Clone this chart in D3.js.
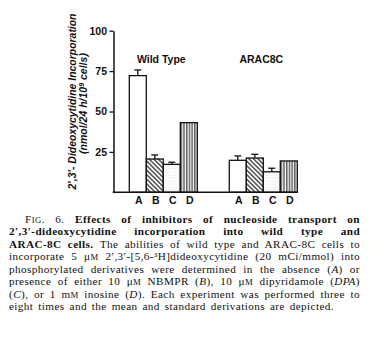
<!DOCTYPE html>
<html><head><meta charset="utf-8">
<script src="https://cdn.jsdelivr.net/npm/d3@7"></script>
<style>body{margin:0;background:#fff} svg{display:block}</style>
</head><body><svg id="c" width="381" height="348"></svg>
<script>
// Incorporation of 2',3'-dideoxycytidine (nmol/24 h/10^9 cells), mean and SD
const groups = ["Wild Type", "ARAC8C"];
const conditions = ["A", "B", "C", "D"];
const wildTypeMeans = [72.2, 20.6, 17.3, 43.1];
const wildTypeErrors = [3.5, 2.5, 1.3, 0];
const arac8cMeans = [19.8, 21.2, 12.7, 19.4];
const arac8cErrors = [2.7, 2.3, 2.2, 0];
const yTicks = [25, 50, 75, 100];
const yTitle = ["2\u2032,3\u2032- Dideoxycytidine Incorporation", "(nmol/24 h/10", "9", " cells)"];

// Caption lines: [text, style] segments; b = bold, r = roman, i = italic, s = small caps
const captionLines = [
  [["F", "r"], ["IG", "s"], [". 6. ", "r"], ["Effects of inhibitors of nucleoside transport on", "b"]],
  [["2\u2032,3\u2032-dideoxycytidine incorporation into wild type and", "b"]],
  [["ARAC-8C cells.", "b"], [" The abilities of wild type and ARAC-8C cells to", "r"]],
  [["incorporate 5 \u03bc", "r"], ["M", "s"], [" 2\u2032,3\u2032-[5,6-\u00b3H]dideoxycytidine (20 mCi/mmol) into", "r"]],
  [["phosphorylated derivatives were determined in the absence (", "r"], ["A", "i"], [") or", "r"]],
  [["presence of either 10 \u03bc", "r"], ["M", "s"], [" NBMPR (", "r"], ["B", "i"], ["), 10 \u03bc", "r"], ["M", "s"], [" dipyridamole (", "r"], ["DPA", "i"], [")", "r"]],
  [["(", "r"], ["C", "i"], ["), or 1 m", "r"], ["M", "s"], [" inosine (", "r"], ["D", "i"], ["). Each experiment was performed three to", "r"]],
  [["eight times and the mean and standard derivations are depicted.", "r"]]
];

const series = [wildTypeMeans, arac8cMeans];
const seriesErr = [wildTypeErrors, arac8cErrors];

const svg = d3.select("#c");
const sans = "'Liberation Sans', Arial, Helvetica, sans-serif";
const serif = "'Liberation Serif', 'Times New Roman', serif";

// fill patterns for conditions B, C, D
const defs = svg.append("defs");
const hatch = defs.append("pattern").attr("id", "pB").attr("patternUnits", "userSpaceOnUse")
  .attr("width", 3.2).attr("height", 6).attr("patternTransform", "rotate(-45)");
hatch.append("rect").attr("width", 3.2).attr("height", 6).attr("fill", "#fff");
hatch.append("line").attr("x1", 0.8).attr("x2", 0.8).attr("y1", 0).attr("y2", 6)
  .attr("stroke", "#111").attr("stroke-width", 1.1);
const dots = defs.append("pattern").attr("id", "pC").attr("patternUnits", "userSpaceOnUse")
  .attr("width", 3).attr("height", 3);
dots.append("rect").attr("width", 3).attr("height", 3).attr("fill", "#fff");
dots.append("circle").attr("cx", 1).attr("cy", 1).attr("r", 0.55).attr("fill", "#c8c8c8");
const vert = defs.append("pattern").attr("id", "pD").attr("patternUnits", "userSpaceOnUse")
  .attr("width", 2.7).attr("height", 4);
vert.append("rect").attr("width", 2.7).attr("height", 4).attr("fill", "#fff");
vert.append("line").attr("x1", 0.8).attr("x2", 0.8).attr("y1", 0).attr("y2", 4)
  .attr("stroke", "#111").attr("stroke-width", 1);
const fills = { A: "#fff", B: "url(#pB)", C: "url(#pC)", D: "url(#pD)" };

// scales
const axisX = 113.5;
const y = d3.scaleLinear().domain([0, 100]).range([192.3, 30.7]);
const gx = d3.scaleBand().domain(groups).range([113.3, 313.3]).paddingInner(0.32).paddingOuter(0.16);
const cx = d3.scaleBand().domain(conditions).range([0, gx.bandwidth()]).padding(0);

// y axis
const yAxis = svg.append("g").attr("transform", `translate(${axisX},0)`)
  .call(d3.axisLeft(y).tickValues(yTicks).tickSize(4).tickSizeOuter(0).tickPadding(2.5));
yAxis.select(".domain").attr("stroke", "#111").attr("stroke-width", 1.5);
yAxis.selectAll(".tick line").attr("stroke", "#111").attr("stroke-width", 1.3);
yAxis.selectAll(".tick text").attr("font-family", sans).attr("font-weight", "bold")
  .attr("font-size", 10.5).attr("fill", "#111");

// bars
groups.forEach((g, gi) => {
  const gg = svg.append("g").attr("transform", `translate(${gx(g)},0)`);
  const rows = conditions.map((c, i) => ({ c, v: series[gi][i], e: seriesErr[gi][i] }));
  gg.selectAll("rect.bar").data(rows).join("rect").attr("class", "bar")
    .attr("x", d => cx(d.c)).attr("width", cx.bandwidth())
    .attr("y", d => y(d.v)).attr("height", d => y(0) - y(d.v))
    .attr("fill", d => fills[d.c]).attr("stroke", "#111").attr("stroke-width", 1.3);
  const eb = gg.selectAll("g.err").data(rows.filter(d => d.e > 0)).join("g").attr("class", "err");
  eb.append("line").attr("x1", d => cx(d.c) + cx.bandwidth() / 2).attr("x2", d => cx(d.c) + cx.bandwidth() / 2)
    .attr("y1", d => y(d.v)).attr("y2", d => y(d.v + d.e)).attr("stroke", "#111").attr("stroke-width", 1.3);
  eb.append("line").attr("x1", d => cx(d.c) + cx.bandwidth() / 2 - 3.5).attr("x2", d => cx(d.c) + cx.bandwidth() / 2 + 3.5)
    .attr("y1", d => y(d.v + d.e)).attr("y2", d => y(d.v + d.e)).attr("stroke", "#111").attr("stroke-width", 1.3);
  // condition letters
  gg.selectAll("text.cond").data(conditions).join("text").attr("class", "cond")
    .attr("x", c => cx(c) + cx.bandwidth() / 2 + 1).attr("y", 203.5).attr("text-anchor", "middle")
    .attr("font-family", sans).attr("font-weight", "bold").attr("font-size", 10.5).attr("fill", "#111")
    .text(c => c);
  // group title
  svg.append("text").attr("x", gx(g) + gx.bandwidth() / 2 - 2).attr("y", 63).attr("text-anchor", "middle")
    .attr("font-family", sans).attr("font-weight", "bold").attr("font-size", 10.5).attr("fill", "#111").text(g);
});

// baseline
const lastG = groups[groups.length - 1];
svg.append("line").attr("x1", axisX - 0.75).attr("x2", gx(lastG) + gx.bandwidth() + 0.5)
  .attr("y1", y(0)).attr("y2", y(0)).attr("stroke", "#111").attr("stroke-width", 1.5);

// y axis title, two rotated lines
const yt = svg.append("g");
yt.append("text").attr("transform", "translate(75.5,101.5) rotate(-90)").attr("text-anchor", "middle")
  .attr("font-family", sans).attr("font-weight", "bold").attr("font-style", "italic").attr("font-size", 11)
  .attr("textLength", 176).attr("lengthAdjust", "spacingAndGlyphs")
  .attr("fill", "#111").text(yTitle[0]);
const t2 = yt.append("text").attr("transform", "translate(87,103.5) rotate(-90)").attr("text-anchor", "middle")
  .attr("font-family", sans).attr("font-weight", "bold").attr("font-style", "italic").attr("font-size", 10.5)
  .attr("fill", "#111");
t2.append("tspan").text(yTitle[1]);
t2.append("tspan").attr("dy", -3.5).attr("font-size", 7).text(yTitle[2]);
t2.append("tspan").attr("dy", 3.5).text(yTitle[3]);

// caption, justified between the margins; the closing line is set a little short
const capLeft = 9, capRight = 360, lastRight = 334, capTop = 223, capStep = 12.45, capSize = 11.2;
captionLines.forEach((segs, li) => {
  const x0 = li === 0 ? 25 : capLeft;
  const right = li === captionLines.length - 1 ? lastRight : capRight;
  const t = svg.append("text").attr("x", x0).attr("y", capTop + li * capStep)
    .attr("font-family", serif).attr("font-size", capSize).attr("letter-spacing", 0.4).attr("fill", "#111");
  segs.forEach(([s, st]) => {
    const sp = t.append("tspan").text(s);
    if (st === "b") sp.attr("font-weight", "bold");
    if (st === "i") sp.attr("font-style", "italic");
    if (st === "s") sp.attr("font-size", capSize * 0.78);
  });
  const full = segs.map(d => d[0]).join("");
  const spaces = (full.match(/ /g) || []).length;
  const w = t.node().getComputedTextLength();
  if (spaces > 0) t.attr("word-spacing", Math.max(0, (right - x0 - w) / spaces));
});
</script></body></html>
